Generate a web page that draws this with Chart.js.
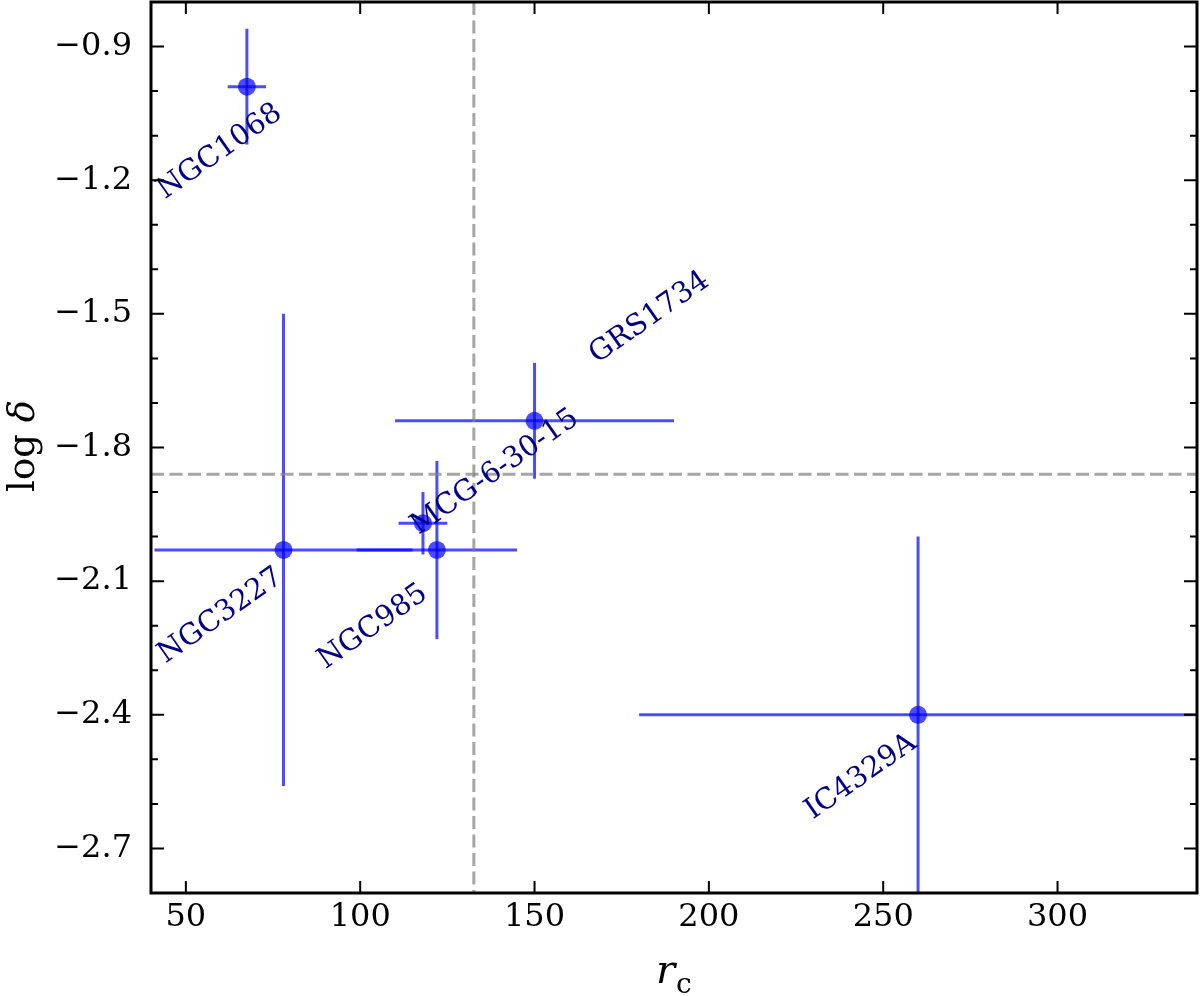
<!DOCTYPE html>
<html>
<head>
<meta charset="utf-8">
<script src="https://cdn.jsdelivr.net/npm/chart.js@4.4.1/dist/chart.umd.min.js"></script>
<style>
  html, body { margin: 0; padding: 0; background: #fff; }
  #wrap { width: 1200px; height: 996px; }
</style>
</head>
<body>
<div id="wrap"><canvas id="deltaChart"></canvas></div>
<script>
// --- data ---
const names = ['NGC1068', 'NGC3227', 'NGC985', 'MCG-6-30-15', 'GRS1734', 'IC4329A'];
const rc = [67.5, 78, 122, 118, 150, 260];
const rcErr = [5.5, 37, 23, 7, 40, 80];
const logDelta = [-0.99, -2.03, -2.03, -1.97, -1.74, -2.40];
const logDeltaErr = [0.13, 0.53, 0.20, 0.07, 0.13, 0.40];
const refRc = 132.6;
const refLogDelta = -1.86;

const xTicks = [50, 100, 150, 200, 250, 300];
const yTicks = [-2.7, -2.4, -2.1, -1.8, -1.5, -1.2, -0.9];
const yMinor = [-2.8, -2.6, -2.5, -2.3, -2.2, -2.0, -1.9, -1.7, -1.6, -1.4, -1.3, -1.1, -1.0, -0.8];

// label placement, pixel offset of label centre from its point
const labelOffset = {
    'NGC1068': [-27, 65], 'NGC3227': [-63, 66], 'NGC985': [-64, 77],
    'MCG-6-30-15': [72, -51], 'GRS1734': [115, -103], 'IC4329A': [-57, 62]
};

const BLUE = 'rgba(0,0,255,0.7)';
const SERIF = '"DejaVu Serif", "Liberation Serif", serif';
const fmt = v => (v < 0 ? '\u2212' : '') + Math.abs(v).toFixed(1);

const extras = {
    id: 'extras',
    beforeDatasetsDraw(chart) {
        const { ctx, chartArea: a, scales: { x, y } } = chart;
        ctx.save();
        ctx.beginPath();
        ctx.rect(a.left, a.top, a.right - a.left, a.bottom - a.top);
        ctx.clip();
        // error bars
        ctx.strokeStyle = BLUE;
        ctx.lineWidth = 3;
        rc.forEach((xv, i) => {
            const px = x.getPixelForValue(xv), py = y.getPixelForValue(logDelta[i]);
            ctx.beginPath();
            ctx.moveTo(x.getPixelForValue(xv - rcErr[i]), py);
            ctx.lineTo(x.getPixelForValue(xv + rcErr[i]), py);
            ctx.stroke();
            ctx.beginPath();
            ctx.moveTo(px, y.getPixelForValue(logDelta[i] + logDeltaErr[i]));
            ctx.lineTo(px, y.getPixelForValue(logDelta[i] - logDeltaErr[i]));
            ctx.stroke();
        });
        // reference lines
        ctx.strokeStyle = 'rgba(128,128,128,0.7)';
        ctx.lineWidth = 3;
        ctx.setLineDash([13, 5.5]);
        const rx = x.getPixelForValue(refRc), ry = y.getPixelForValue(refLogDelta);
        ctx.beginPath(); ctx.moveTo(rx, a.top); ctx.lineTo(rx, a.bottom); ctx.stroke();
        ctx.beginPath(); ctx.moveTo(a.left, ry); ctx.lineTo(a.right, ry); ctx.stroke();
        ctx.restore();
    },
    afterDraw(chart) {
        const { ctx, chartArea: a, scales: { x, y } } = chart;
        ctx.save();
        // source names
        ctx.fillStyle = '#00008b';
        ctx.font = '29px ' + SERIF;
        ctx.textAlign = 'center';
        ctx.textBaseline = 'middle';
        names.forEach((n, i) => {
            const o = labelOffset[n];
            ctx.save();
            ctx.translate(x.getPixelForValue(rc[i]) + o[0], y.getPixelForValue(logDelta[i]) + o[1]);
            ctx.rotate(-35 * Math.PI / 180);
            ctx.fillText(n, 0, 0);
            ctx.restore();
        });
        // inward ticks on all four sides
        ctx.strokeStyle = '#000';
        ctx.lineWidth = 2;
        ctx.beginPath();
        xTicks.forEach(v => {
            const p = x.getPixelForValue(v);
            ctx.moveTo(p, a.bottom); ctx.lineTo(p, a.bottom - 12);
            ctx.moveTo(p, a.top); ctx.lineTo(p, a.top + 12);
        });
        yTicks.forEach(v => {
            const p = y.getPixelForValue(v);
            ctx.moveTo(a.left, p); ctx.lineTo(a.left + 13, p);
            ctx.moveTo(a.right, p); ctx.lineTo(a.right - 13, p);
        });
        yMinor.forEach(v => {
            const p = y.getPixelForValue(v);
            ctx.moveTo(a.left, p); ctx.lineTo(a.left + 7, p);
            ctx.moveTo(a.right, p); ctx.lineTo(a.right - 7, p);
        });
        ctx.stroke();
        ctx.lineWidth = 3;
        ctx.strokeRect(a.left, a.top, a.right - a.left, a.bottom - a.top);
        // axis titles
        ctx.fillStyle = '#000';
        ctx.textBaseline = 'alphabetic';
        ctx.textAlign = 'left';
        ctx.font = 'italic 40px ' + SERIF;
        ctx.fillText('r', 656, 983);
        ctx.font = '28px ' + SERIF;
        ctx.fillText('c', 676, 993);
        ctx.save();
        ctx.translate(34, 446);
        ctx.rotate(-Math.PI / 2);
        ctx.font = '37px ' + SERIF;
        const w1 = ctx.measureText('log ').width;
        ctx.font = 'italic 37px ' + SERIF;
        const w2 = ctx.measureText('\u03b4').width;
        ctx.font = '37px ' + SERIF;
        ctx.fillText('log ', -(w1 + w2) / 2, 0);
        ctx.font = 'italic 37px ' + SERIF;
        ctx.fillText('\u03b4', -(w1 + w2) / 2 + w1, 0);
        ctx.restore();
        ctx.restore();
    }
};

new Chart(document.getElementById('deltaChart'), {
    type: 'scatter',
    data: {
        datasets: [{
            data: rc.map((v, i) => ({ x: v, y: logDelta[i] })),
            backgroundColor: BLUE, borderWidth: 0, pointRadius: 9, pointHoverRadius: 9
        }]
    },
    options: {
        responsive: true, maintainAspectRatio: false, animation: false,
        layout: { autoPadding: false, padding: { top: 2, right: 3, left: 0, bottom: 0 } },
        plugins: { legend: { display: false }, tooltip: { enabled: false } },
        scales: {
            x: {
                type: 'linear', min: 40, max: 340,
                afterBuildTicks: s => { s.ticks = xTicks.map(v => ({ value: v })); },
                afterFit: s => { s.height = 103; s.paddingLeft = 0; s.paddingRight = 0; },
                grid: { display: false }, border: { display: false },
                ticks: { font: { family: SERIF, size: 32 }, color: '#000', padding: -3, maxRotation: 0 }
            },
            y: {
                type: 'linear', min: -2.8, max: -0.8,
                afterBuildTicks: s => { s.ticks = yTicks.map(v => ({ value: v })); },
                afterFit: s => { s.width = 151; s.paddingTop = 0; s.paddingBottom = 0; },
                grid: { display: false }, border: { display: false },
                ticks: { font: { family: SERIF, size: 32 }, color: '#000', padding: 11, callback: fmt }
            }
        }
    },
    plugins: [extras]
});
</script>
</body>
</html>
